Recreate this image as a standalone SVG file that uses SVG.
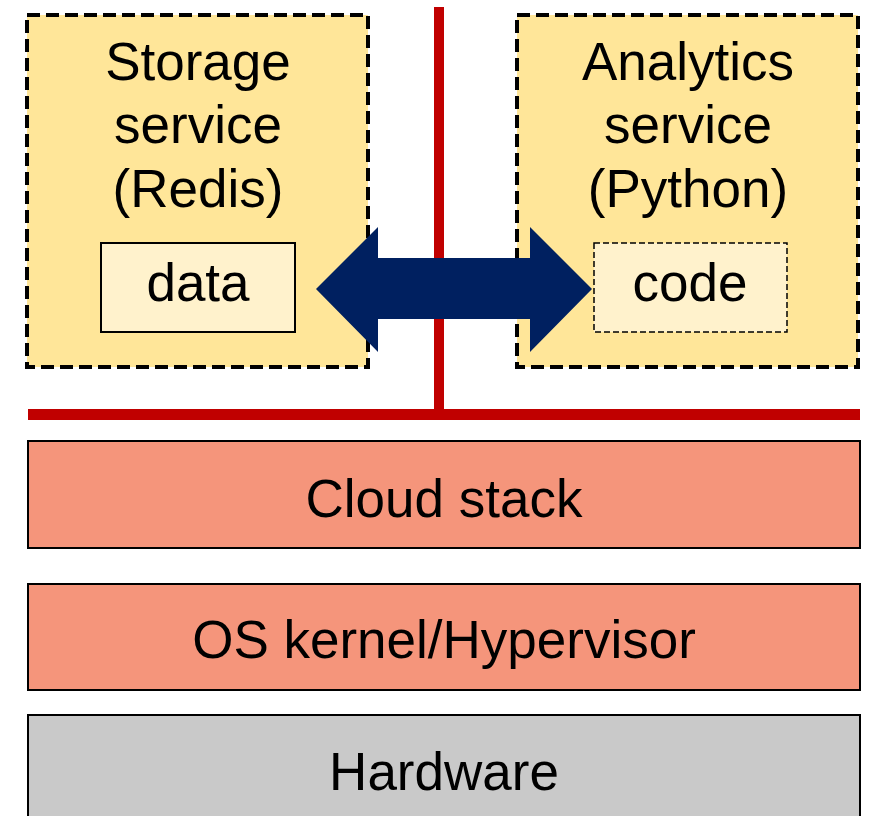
<svg xmlns="http://www.w3.org/2000/svg" width="874" height="816" viewBox="0 0 874 816">
<style>
text{font-family:"Liberation Sans",Arial,sans-serif;font-size:53px;fill:#000;text-anchor:middle}
.svc{fill:#FFE699;stroke:#000;stroke-width:4;stroke-dasharray:13 6}
.inner{fill:#FFF2CC;stroke:#000;stroke-width:2}
.innerd{fill:#FFF2CC;stroke:#000;stroke-width:1.5;stroke-dasharray:6 3}
.layer{fill:#F5957B;stroke:#000;stroke-width:2}
.hw{fill:#C9C9C9;stroke:#000;stroke-width:2}
.red{stroke:#C00000;fill:none}
</style>
<rect width="874" height="816" fill="#fff"/>
<g id="storage">
<rect class="svc" x="27" y="15" width="341" height="352"/>
<text x="198" y="80">Storage</text>
<text x="198" y="143">service</text>
<text x="198" y="207">(Redis)</text>
</g>
<g id="data">
<rect class="inner" x="101" y="243" width="194" height="89"/>
<text x="198" y="301">data</text>
</g>
<g id="analytics">
<rect class="svc" x="517" y="15" width="341" height="352"/>
<text x="688" y="80">Analytics</text>
<text x="688" y="143">service</text>
<text x="688" y="207">(Python)</text>
</g>
<g id="code">
<rect class="innerd" x="594" y="243" width="193" height="89"/>
<text x="690" y="301">code</text>
</g>
<g id="connectors">
<line class="red" x1="439" y1="7" x2="439" y2="412" stroke-width="10"/>
<line class="red" x1="28" y1="414.5" x2="860" y2="414.5" stroke-width="11"/>
<polygon points="316,289 378,227 378,258 530,258 530,227 592,289 530,352 530,319 378,319 378,352" fill="#002060"/>
</g>
<g id="cloud">
<rect class="layer" x="28" y="441" width="832" height="107"/>
<text x="444" y="517">Cloud stack</text>
</g>
<g id="os">
<rect class="layer" x="28" y="584" width="832" height="106"/>
<text x="444" y="658">OS kernel/Hypervisor</text>
</g>
<g id="hardware">
<rect class="hw" x="28" y="715" width="832" height="110"/>
<text x="444" y="790">Hardware</text>
</g>
</svg>
